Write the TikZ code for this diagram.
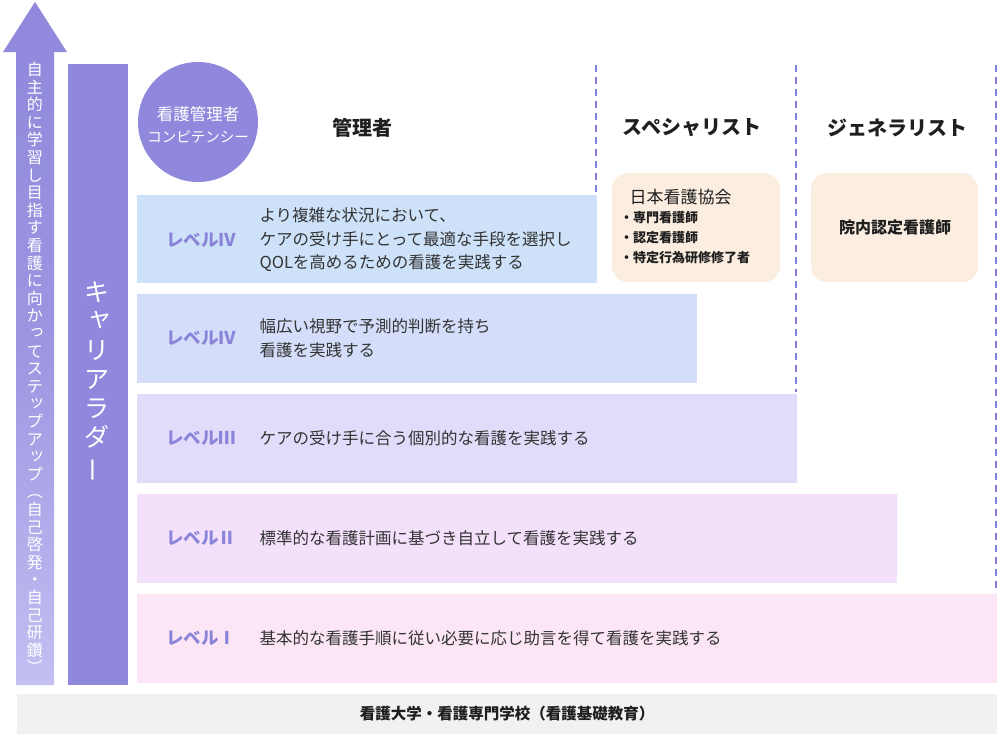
\documentclass[tikz,border=0pt]{standalone}
\usepackage{fontspec}
\setmainfont{Noto Sans CJK JP}
\usepackage{graphicx}
\definecolor{purp}{HTML}{8F88DC}
\definecolor{purplight}{HTML}{C3BFF2}
\definecolor{lvlcol}{HTML}{8A84D8}
\definecolor{dashcol}{HTML}{7F7FE2}
\definecolor{boxA}{HTML}{CDE1F9}
\definecolor{boxB}{HTML}{D4DDF9}
\definecolor{boxC}{HTML}{E3DBFA}
\definecolor{boxD}{HTML}{F3E0FB}
\definecolor{boxE}{HTML}{FCE6F5}
\definecolor{orng}{HTML}{FBEDDF}
\definecolor{grayb}{HTML}{F1F1F1}
\definecolor{txt}{HTML}{333333}
\newcommand\vsk[1]{\makebox[1em]{\raisebox{0.16em}{\hspace{0.22em}#1}}}
\newcommand\vbar{\rotatebox[origin=c]{90}{ー}}
\tikzset{
  lvlbox/.style={fill=#1, draw=none},
  lvllabel/.style={text=lvlcol, font=\fontsize{17.5}{18}\selectfont\bfseries, anchor=center},
  desc/.style={text=txt, font=\fontsize{16.5}{23.5}\selectfont, anchor=west, align=left},
  heading/.style={text=black!88, font=\fontsize{20}{22}\selectfont\bfseries},
  divider/.style={dashcol, line width=2pt, dash pattern=on 7pt off 5pt},
}
\begin{document}
\begin{tikzpicture}[x=1pt,y=-1pt]
\useasboundingbox (0,0) rectangle (1000,750);
% big arrow
\shade[top color=purp, bottom color=purplight, middle color=purp!75!purplight]
  (35,2) -- (67,52) -- (54,52) -- (54,685) -- (16,685) -- (16,52) -- (3,52) -- cycle;
\node[text=white, align=center, font=\fontsize{16}{17.6}\selectfont] (arrowtext) at (35,368)
 {自\\主\\的\\に\\学\\習\\し\\目\\指\\す\\看\\護\\に\\向\\か\\\vsk{っ}\\て\\ス\\テ\\\vsk{ッ}\\プ\\ア\\\vsk{ッ}\\プ\\︵\\自\\己\\啓\\発\\・\\自\\己\\研\\鑽\\︶};
% career ladder bar
\fill[purp] (68,64) rectangle (128,685);
\node[text=white, align=center, font=\fontsize{25}{29}\selectfont] (ladder) at (97,382)
 {キ\\\vsk{ャ}\\リ\\ア\\ラ\\ダ\\\vbar};
% circle
\node[circle, fill=purp, minimum size=120pt, inner sep=0pt] (circ) at (198,122) {};
\node[text=white, font=\fontsize{16.5}{16}\selectfont] at (198,114) {看護管理者};
\node[text=white, font=\fontsize{14.5}{14}\selectfont] at (198,137) {コンピテンシー};
% headings
\node[heading] (h1) at (362,128) {管理者};
\node[heading] (h2) at (692,128) {スペシャリスト};
\node[heading] (h3) at (897,128) {ジェネラリスト};
% dividers
\draw[divider] (596,65) -- (596,195);
\draw[divider] (796,65) -- (796,392);
\draw[divider] (996,65) -- (996,590);
% level boxes
\fill[lvlbox=boxA] (137,195) rectangle (597,283);
\fill[lvlbox=boxB] (137,294) rectangle (697,383);
\fill[lvlbox=boxC] (137,394) rectangle (797,483);
\fill[lvlbox=boxD] (137,494) rectangle (897,583);
\fill[lvlbox=boxE] (137,594) rectangle (997,683);
\node[lvllabel] (l4a) at (201,240) {レベルⅣ};
\node[lvllabel] (l4b) at (201,338) {レベルⅣ};
\node[lvllabel] (l3) at (201,438) {レベルⅢ};
\node[lvllabel] (l2) at (201,538) {レベルⅡ};
\node[lvllabel] (l1) at (201,638) {レベルⅠ};
\node[desc] (d4a) at (256,240) {より複雑な状況において、\\ケアの受け手にとって最適な手段を選択し\\QOLを高めるための看護を実践する};
\node[desc] (d4b) at (256,338) {幅広い視野で予測的判断を持ち\\看護を実践する};
\node[desc] (d3) at (256,438) {ケアの受け手に合う個別的な看護を実践する};
\node[desc] (d2) at (256,538) {標準的な看護計画に基づき自立して看護を実践する};
\node[desc] (d1) at (256,638) {基本的な看護手順に従い必要に応じ助言を得て看護を実践する};
% orange boxes
\fill[orng, rounded corners=16pt] (612,173) rectangle (780,282);
\node[anchor=west, text=black!88, font=\fontsize{17}{18}\selectfont] (jna) at (626,197) {日本看護協会};
\node[anchor=north west, align=left, text=black!88, font=\fontsize{13}{20}\selectfont\bfseries, inner sep=0pt] (jnal) at (620,211)
 {・専門看護師\\・認定看護師\\・特定行為研修修了者};
\fill[orng, rounded corners=16pt] (811,173) rectangle (978,282);
\node[text=black!88, font=\fontsize{16}{18}\selectfont\bfseries] (inhouse) at (895,227) {院内認定看護師};
% bottom bar
\fill[grayb] (17,694) rectangle (997,734);
\node[text=black!88, font=\fontsize{15.5}{18}\selectfont\bfseries] (base) at (507,714) {看護大学・看護専門学校（看護基礎教育）};
\end{tikzpicture}
\end{document}
